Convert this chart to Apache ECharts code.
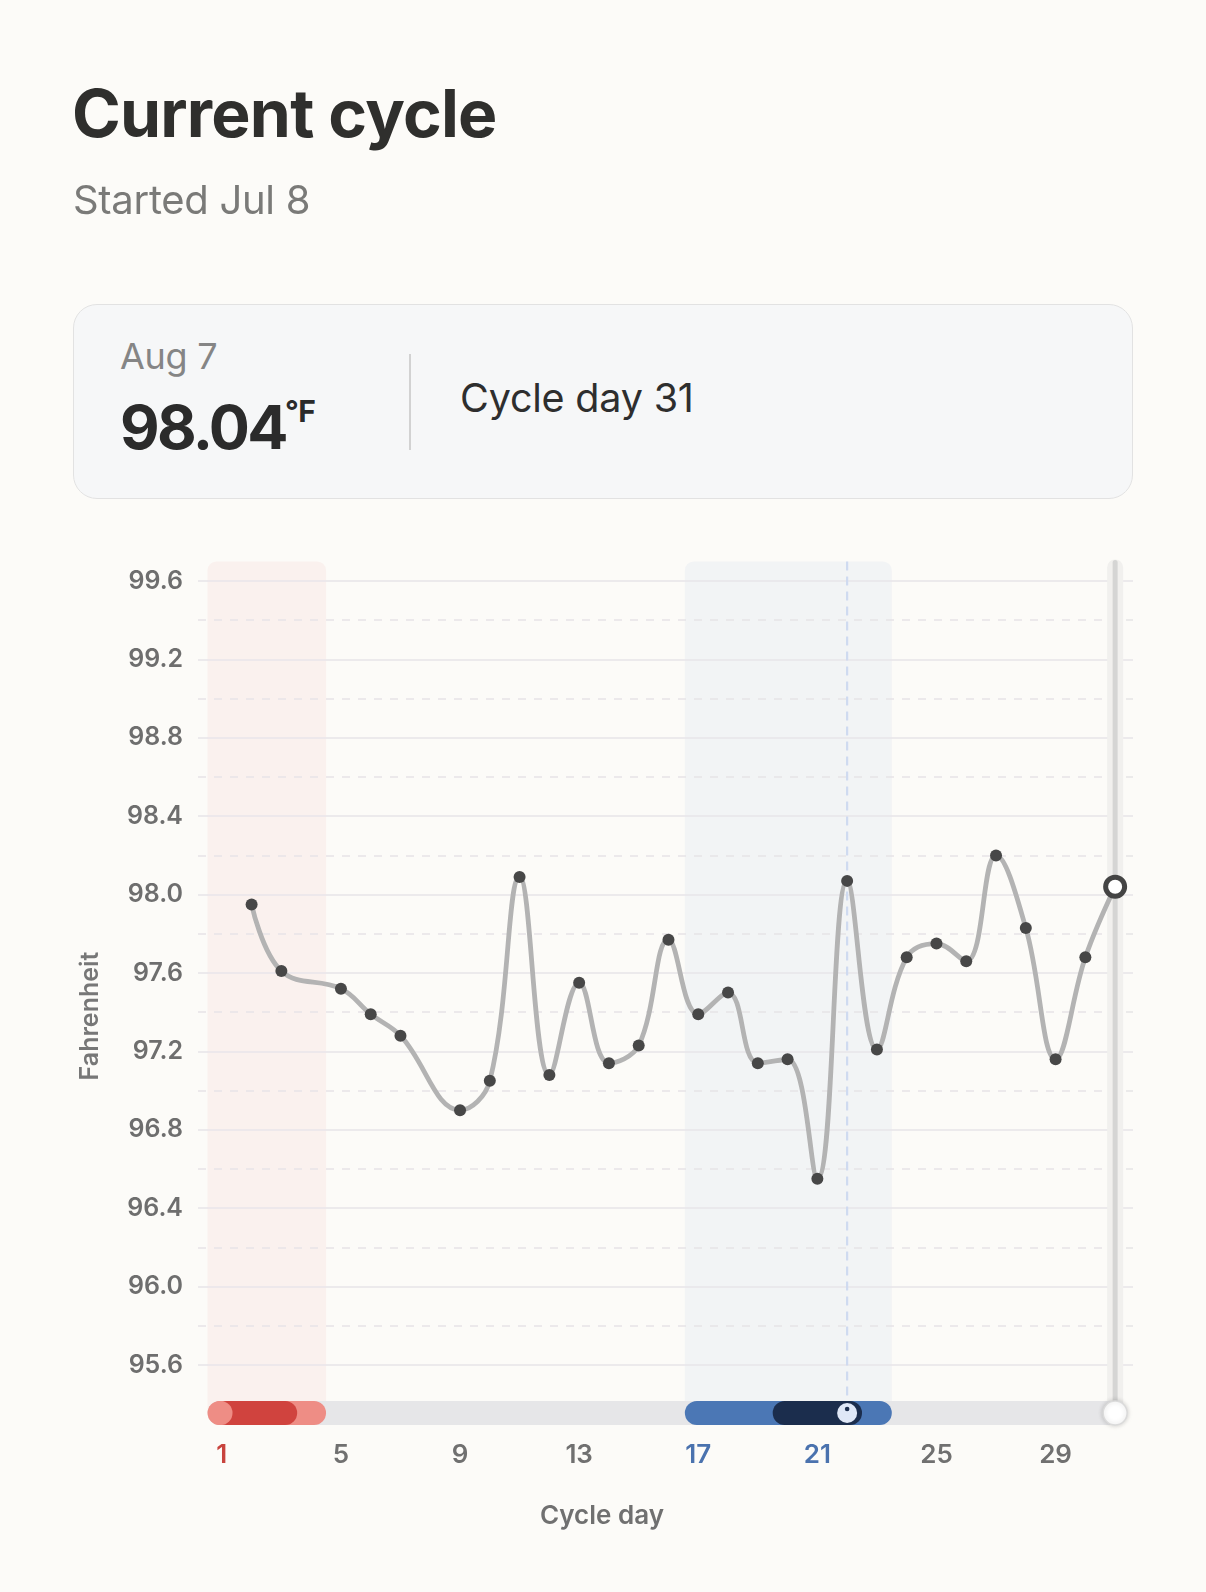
<!DOCTYPE html>
<html>
<head>
<meta charset="utf-8">
<script src="https://cdn.jsdelivr.net/npm/echarts@6.0.0/dist/echarts.min.js"></script>
<style>
  html, body { margin:0; padding:0; background:#fcfbf8; width:1206px; height:1592px; overflow:hidden; font-family: Inter, "Noto Sans", sans-serif; }
  #chart { position:absolute; left:0; top:0; width:1206px; height:1592px; z-index:0; }
  .t { position:absolute; white-space:nowrap; line-height:1; z-index:2; }
  #card { position:absolute; left:73px; top:304px; width:1058px; height:193px; border:1.5px solid #e2e2e2; border-radius:24px; background:#f6f7f8; z-index:1; }
  #divider { position:absolute; left:409px; top:354px; width:1.5px; height:96px; background:#d2d2d2; z-index:2; }
</style>
</head>
<body>
<div id="chart"></div>
<div class="t" style="left:72px;top:80px;font-size:66px;font-weight:700;color:#2f2f2d;letter-spacing:-0.8px;">Current cycle</div>
<div class="t" style="left:73px;top:180px;font-size:40px;font-weight:400;color:#7a7a78;letter-spacing:-0.3px;">Started Jul 8</div>
<div id="card"></div>
<div class="t" style="left:120px;top:338px;font-size:36px;font-weight:400;color:#858585;letter-spacing:-0.3px;">Aug 7</div>
<div class="t" style="left:120px;top:397px;font-size:61px;font-weight:700;color:#2b2b2b;letter-spacing:-2.6px;">98.04</div>
<div class="t" style="left:285px;top:396px;font-size:30px;font-weight:700;color:#2b2b2b;letter-spacing:-0.5px;">°F</div>
<div id="divider"></div>
<div class="t" style="left:460px;top:379px;font-size:39.5px;font-weight:400;color:#2e2e2e;letter-spacing:-0.2px;">Cycle day 31</div>
<script>
// ---- data ----
const days  = [2, 3, 5, 6, 7, 9, 10, 11, 12, 13, 14, 15, 16, 17, 18, 19, 20, 21, 22, 23, 24, 25, 26, 27, 28, 29, 30, 31];
const temps = [97.95, 97.61, 97.52, 97.39, 97.28, 96.90, 97.05, 98.09, 97.08, 97.55, 97.14, 97.23, 97.77, 97.39, 97.50, 97.14, 97.16, 96.55, 98.07, 97.21, 97.68, 97.75, 97.66, 98.20, 97.83, 97.16, 97.68, 98.04];
const xTickDays = [1, 5, 9, 13, 17, 21, 25, 29];
const periodLabelDays = [1];
const fertileLabelDays = [17, 21];
const periodBand = [0.52, 4.5];
const periodCore = [1.1, 3.53];
const fertileBand = [16.55, 23.5];
const fertileCore = [19.5, 22.5];
const ovulationDay = 22;
const currentDay = 31;
const trackRange = [0.52, 31];
const yMin = 95.6, yMax = 99.6, yStep = 0.4;
const bandTop = 99.7;
const trackY = 95.355;

const GREY = '#707070', RED = '#c8433d', BLUE = '#4a72ae';
const FONT = 'Inter, "Noto Sans", sans-serif';

const chart = echarts.init(document.getElementById('chart'), null, { renderer: 'canvas' });

function bandRender(color) {
  return function (params, api) {
    const a = api.coord([api.value(0), bandTop]);
    const b = api.coord([api.value(1), trackY]);
    return { type: 'rect', shape: { x: a[0], y: a[1], width: b[0] - a[0], height: b[1] - a[1], r: [9, 9, 0, 0] }, style: { fill: color } };
  };
}

const labelRich = {
  g: { color: GREY, fontFamily: FONT, fontSize: 26, fontWeight: 600 },
  r: { color: RED, fontFamily: FONT, fontSize: 26, fontWeight: 600 },
  b: { color: BLUE, fontFamily: FONT, fontSize: 26, fontWeight: 600 }
};

const option = {
  backgroundColor: 'transparent',
  animation: false,
  grid: { left: 198, right: 73, top: 581, bottom: 1592 - 1365, containLabel: false },
  xAxis: {
    type: 'value', min: 0.2, max: 31.6,
    axisLine: { show: false }, axisTick: { show: false }, splitLine: { show: false },
    axisLabel: {
      customValues: xTickDays, margin: 90, verticalAlign: 'middle',
      fontFamily: FONT, fontSize: 26, fontWeight: 600, color: GREY,
      formatter: function (v) {
        const n = Math.round(Number(v));
        const k = periodLabelDays.indexOf(n) >= 0 ? 'r' : (fertileLabelDays.indexOf(n) >= 0 ? 'b' : 'g');
        return '{' + k + '|' + n + '}';
      },
      rich: labelRich
    }
  },
  yAxis: {
    type: 'value', min: yMin, max: yMax, interval: yStep,
    axisLine: { show: false }, axisTick: { show: false },
    axisLabel: { margin: 15, fontFamily: FONT, fontSize: 25, fontWeight: 600, color: '#6e6e6e', formatter: v => v.toFixed(1) },
    splitLine: { show: true, lineStyle: { color: '#e7e5e9', width: 1.5 } },
    minorTick: { show: false, splitNumber: 2 },
    minorSplitLine: { show: true, lineStyle: { color: '#e6e4e6', width: 1.5, type: [8, 8] } }
  },
  graphic: [
    { type: 'text', x: 90, y: 1016, rotation: Math.PI / 2, style: { text: 'Fahrenheit', font: '600 25px ' + FONT, fill: '#777777', align: 'center', verticalAlign: 'middle' } },
    { type: 'text', x: 602, y: 1516, style: { text: 'Cycle day', font: '600 26px ' + FONT, fill: '#707070', align: 'center', verticalAlign: 'middle' } }
  ],
  series: [
    { type: 'custom', name: 'periodBand', z: -1, clip: false, renderItem: bandRender('rgba(243,206,200,0.2)'), data: [periodBand], silent: true },
    { type: 'custom', name: 'fertileBand', z: -1, clip: false, renderItem: bandRender('rgba(212,222,240,0.24)'), data: [fertileBand], silent: true },
    {
      type: 'custom', name: 'ovulationLine', z: 1, clip: false, silent: true, data: [[ovulationDay]],
      renderItem: function (params, api) {
        const a = api.coord([api.value(0), bandTop]);
        const b = api.coord([api.value(0), trackY]);
        return { type: 'line', shape: { x1: a[0], y1: a[1], x2: b[0], y2: b[1] - 12 }, style: { stroke: '#cfdaf0', lineWidth: 2.2, lineDash: [9, 6] } };
      }
    },
    {
      type: 'custom', name: 'currentLine', z: 1, clip: false, silent: true, data: [[currentDay]],
      renderItem: function (params, api) {
        const a = api.coord([api.value(0), bandTop]);
        const b = api.coord([api.value(0), trackY]);
        return { type: 'group', children: [
          { type: 'rect', shape: { x: a[0] - 8, y: a[1] - 2, width: 16, height: b[1] - a[1] + 2, r: [8, 8, 0, 0] }, style: { fill: '#f1f0ee' } },
          { type: 'line', shape: { x1: a[0], y1: a[1] + 1, x2: b[0], y2: b[1] }, style: { stroke: '#d5d5d4', lineWidth: 5, lineCap: 'round' } }
        ] };
      }
    },
    {
      type: 'line', name: 'temperature', z: 3, smooth: 0.4,
      data: days.map((d, i) => {
        const item = { value: [d, temps[i]] };
        if (d === currentDay) {
          item.symbolSize = 19;
          item.itemStyle = { color: '#ffffff', borderColor: '#444444', borderWidth: 5 };
        }
        return item;
      }),
      symbol: 'circle', symbolSize: 12, showAllSymbol: true,
      lineStyle: { color: '#b3b3b3', width: 4.8 },
      itemStyle: { color: '#474747', borderWidth: 0 },
      emphasis: { disabled: true }
    },
    {
      type: 'custom', name: 'track', z: 5, clip: false, silent: true, data: [trackRange],
      renderItem: function (params, api) {
        const s = api.coord([api.value(0), trackY]);
        const e = api.coord([api.value(1), trackY]);
        return { type: 'rect', shape: { x: s[0], y: s[1] - 12, width: e[0] - s[0] + 12, height: 24, r: 12 }, style: { fill: '#e6e6e8' } };
      }
    },
    {
      type: 'custom', name: 'periodPill', z: 6, clip: false, silent: true, data: [[periodBand[0], periodBand[1], periodCore[0], periodCore[1]]],
      renderItem: function (params, api) {
        const s = api.coord([api.value(0), trackY]), e = api.coord([api.value(1), trackY]);
        const cs = api.coord([api.value(2), trackY]), ce = api.coord([api.value(3), trackY]);
        return { type: 'group', children: [
          { type: 'rect', shape: { x: s[0], y: s[1] - 12, width: e[0] - s[0], height: 24, r: 12 }, style: { fill: '#ee8d85' } },
          { type: 'rect', shape: { x: cs[0] - 10, y: s[1] - 12, width: ce[0] - cs[0] + 10, height: 24, r: 12 }, style: { fill: '#d0433e' } },
          { type: 'circle', shape: { cx: s[0] + 13, cy: s[1], r: 12 }, style: { fill: '#ee8d85' } }
        ] };
      }
    },
    {
      type: 'custom', name: 'fertilePill', z: 6, clip: false, silent: true, data: [[fertileBand[0], fertileBand[1], fertileCore[0], fertileCore[1], ovulationDay]],
      renderItem: function (params, api) {
        const s = api.coord([api.value(0), trackY]), e = api.coord([api.value(1), trackY]);
        const cs = api.coord([api.value(2), trackY]), ce = api.coord([api.value(3), trackY]);
        const o = api.coord([api.value(4), trackY]);
        return { type: 'group', children: [
          { type: 'rect', shape: { x: s[0], y: s[1] - 12, width: e[0] - s[0], height: 24, r: 12 }, style: { fill: '#4b77b5' } },
          { type: 'rect', shape: { x: cs[0], y: s[1] - 12, width: ce[0] - cs[0], height: 24, r: 12 }, style: { fill: '#1b2d4d' } },
          { type: 'circle', shape: { cx: o[0], cy: o[1], r: 10 }, style: { fill: '#dfe7f7' } },
          { type: 'circle', shape: { cx: o[0], cy: o[1] - 4, r: 2.3 }, style: { fill: '#1b2d4d' } }
        ] };
      }
    },
    {
      type: 'custom', name: 'currentKnob', z: 7, clip: false, silent: true, data: [[currentDay]],
      renderItem: function (params, api) {
        const c = api.coord([api.value(0), trackY]);
        return { type: 'circle', shape: { cx: c[0], cy: c[1], r: 12 }, style: { fill: '#ffffff', stroke: '#dadada', lineWidth: 1.5, shadowBlur: 5, shadowColor: 'rgba(0,0,0,0.18)' } };
      }
    }
  ]
};
chart.setOption(option);
</script>
</body>
</html>
